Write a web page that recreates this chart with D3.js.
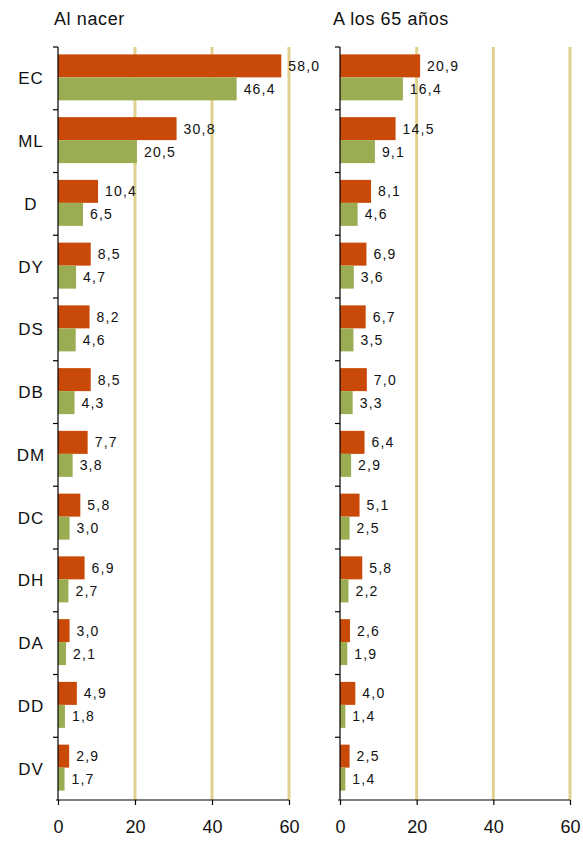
<!DOCTYPE html>
<html>
<head>
<meta charset="utf-8">
<script src="https://cdn.jsdelivr.net/npm/d3@7"></script>
<style>
  html, body { margin: 0; padding: 0; background: #fff; }
  svg { display: block; font-family: "Liberation Sans", Arial, sans-serif; }
</style>
</head>
<body>
<svg id="chart" width="583" height="842"></svg>
<script>
// Categories (top to bottom)
const categories = ["EC", "ML", "D", "DY", "DS", "DB", "DM", "DC", "DH", "DA", "DD", "DV"];

// "Al nacer" panel
const birthRed   = [58.0, 30.8, 10.4, 8.5, 8.2, 8.5, 7.7, 5.8, 6.9, 3.0, 4.9, 2.9];
const birthGreen = [46.4, 20.5, 6.5, 4.7, 4.6, 4.3, 3.8, 3.0, 2.7, 2.1, 1.8, 1.7];

// "A los 65 años" panel
const age65Red   = [20.9, 14.5, 8.1, 6.9, 6.7, 7.0, 6.4, 5.1, 5.8, 2.6, 4.0, 2.5];
const age65Green = [16.4, 9.1, 4.6, 3.6, 3.5, 3.3, 2.9, 2.5, 2.2, 1.9, 1.4, 1.4];

const xTicks = [0, 20, 40, 60];
const panelTitles = ["Al nacer", "A los 65 años"];

const RED = "#c94a08";
const GREEN = "#9aad52";
const GRID = "#e2d08e";

const svg = d3.select("#chart");
const fmt = v => d3.format(".1f")(v).replace(".", ",");

const plotTop = 47, plotBottom = 800;
const y = d3.scaleBand().domain(categories).range([plotTop, plotBottom]);

const panels = [
  { title: panelTitles[0], red: birthRed, green: birthGreen, x0: 58, x1: 289, titleX: 54, showCats: true },
  { title: panelTitles[1], red: age65Red, green: age65Green, x0: 340, x1: 570, titleX: 333, showCats: false }
];

panels.forEach(p => {
  const x = d3.scaleLinear().domain([0, 60]).range([p.x0, p.x1]);
  const g = svg.append("g");

  // title
  g.append("text")
    .attr("x", p.titleX).attr("y", 25)
    .attr("font-size", 18).attr("letter-spacing", 0.6).attr("fill", "#111")
    .text(p.title);

  // vertical gridlines
  g.selectAll("line.grid")
    .data(xTicks.filter(t => t > 0))
    .join("line")
    .attr("class", "grid")
    .attr("x1", d => x(d)).attr("x2", d => x(d))
    .attr("y1", plotTop).attr("y2", plotBottom)
    .attr("stroke", GRID).attr("stroke-width", 3);

  const barH = 23;
  const rows = categories.map((c, i) => ({ c, r: p.red[i], gr: p.green[i] }));
  const rowTop = d => y(d.c) + y.bandwidth() / 2 - barH - 1;

  // bars
  g.selectAll("rect.red").data(rows).join("rect")
    .attr("class", "red")
    .attr("x", x(0)).attr("y", d => rowTop(d))
    .attr("width", d => x(d.r) - x(0)).attr("height", barH)
    .attr("fill", RED);
  g.selectAll("rect.green").data(rows).join("rect")
    .attr("class", "green")
    .attr("x", x(0)).attr("y", d => rowTop(d) + barH)
    .attr("width", d => x(d.gr) - x(0)).attr("height", barH)
    .attr("fill", GREEN);

  // value labels
  const labelStyle = sel => sel
    .attr("dy", "0.35em").attr("font-size", 14).attr("letter-spacing", 1.2)
    .attr("fill", "#111");
  g.selectAll("text.rv").data(rows).join("text")
    .attr("class", "rv")
    .attr("x", d => x(d.r) + 7).attr("y", d => rowTop(d) + barH / 2)
    .call(labelStyle)
    .text(d => fmt(d.r));
  g.selectAll("text.gv").data(rows).join("text")
    .attr("class", "gv")
    .attr("x", d => x(d.gr) + 7).attr("y", d => rowTop(d) + barH * 1.5)
    .call(labelStyle)
    .text(d => fmt(d.gr));

  // left axis line with boundary ticks
  g.append("line")
    .attr("x1", x(0)).attr("x2", x(0)).attr("y1", plotTop).attr("y2", plotBottom)
    .attr("stroke", "#000").attr("stroke-width", 1.2);
  const bounds = categories.map(c => y(c));
  g.selectAll("line.ytick").data(bounds).join("line")
    .attr("class", "ytick")
    .attr("x1", x(0) - 5).attr("x2", x(0))
    .attr("y1", d => d).attr("y2", d => d)
    .attr("stroke", "#000").attr("stroke-width", 1.2);

  // category labels
  if (p.showCats) {
    g.selectAll("text.cat").data(categories).join("text")
      .attr("class", "cat")
      .attr("x", 31).attr("y", c => y(c) + y.bandwidth() / 2)
      .attr("dy", "0.35em").attr("text-anchor", "middle")
      .attr("font-size", 17).attr("letter-spacing", 1).attr("fill", "#111")
      .text(c => c);
  }

  // bottom axis
  const ax = g.append("g").attr("transform", `translate(0,${plotBottom})`)
    .call(d3.axisBottom(x).tickValues(xTicks).tickSize(5).tickSizeOuter(0).tickPadding(15));
  ax.select(".domain").attr("stroke", "#000").attr("stroke-width", 1.2)
    .attr("d", `M${x(0) - 2},0H${x(60)}`);
  ax.selectAll(".tick line").attr("stroke", "#000").attr("stroke-width", 1.2);
  ax.selectAll(".tick text")
    .attr("font-size", 18).attr("fill", "#111")
    .attr("font-family", "Liberation Sans, Arial, sans-serif");
});
</script>
</body>
</html>
